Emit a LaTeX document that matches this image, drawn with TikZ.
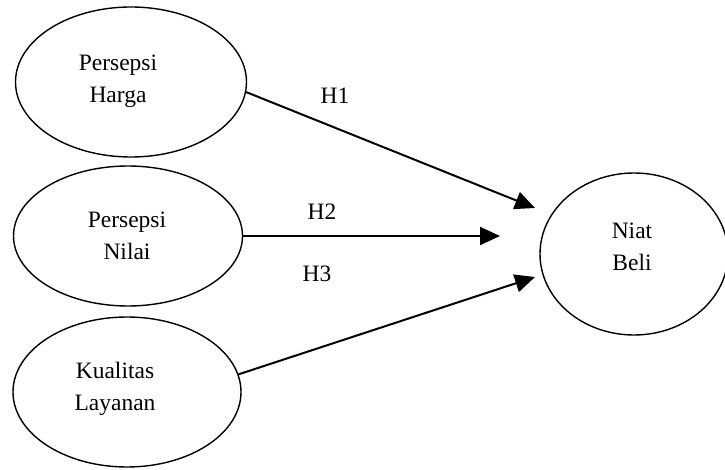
\documentclass[tikz,border=0pt]{standalone}
\usepackage{fontspec}
\setmainfont{Liberation Serif}
\usetikzlibrary{shapes.geometric,arrows.meta}
\tikzset{
  konstruk/.style={ellipse,draw,line width=1.4pt,inner sep=0pt},
  teks/.style={align=center,font=\fontsize{23.5}{32}\selectfont},
  panah/.style={line width=2pt,-{Triangle[length=20pt,width=18pt]}},
}
\begin{document}
\begin{tikzpicture}[x=1pt,y=-1pt]
\useasboundingbox (0,0) rectangle (725,470);
% edit here for the ellipses
\node[konstruk,minimum width=231pt,minimum height=150pt] (harga) at (131,82) {};
\node[konstruk,minimum width=229pt,minimum height=140pt] (nilai) at (128,236) {};
\node[konstruk,minimum width=228pt,minimum height=150pt] (layanan) at (127,392) {};
\node[konstruk,minimum width=188pt,minimum height=162pt] (niat) at (634,254) {};
% edit here for the texts
\node[teks] (tharga) at (118,81) {Persepsi\\Harga};
\node[teks] (tnilai) at (127,236) {Persepsi\\Nilai};
\node[teks] (tlayanan) at (115,389) {Kualitas\\Layanan};
\node[teks] (tniat) at (632,247) {Niat\\Beli};
% edit here for the arrow tips
\coordinate (u1) at (535,208);
\coordinate (u2) at (500,236);
\coordinate (u3) at (535,277);
\draw[panah] (harga.-5) -- (u1);
\draw[panah] (nilai.east) -- (u2);
\draw[panah] (layanan.9) -- (u3);
% edit here for the H's
\node[teks] (h1) at (335,96) {H1};
\node[teks] (h2) at (322,212) {H2};
\node[teks] (h3) at (317,274) {H3};
\end{tikzpicture}
\end{document}
